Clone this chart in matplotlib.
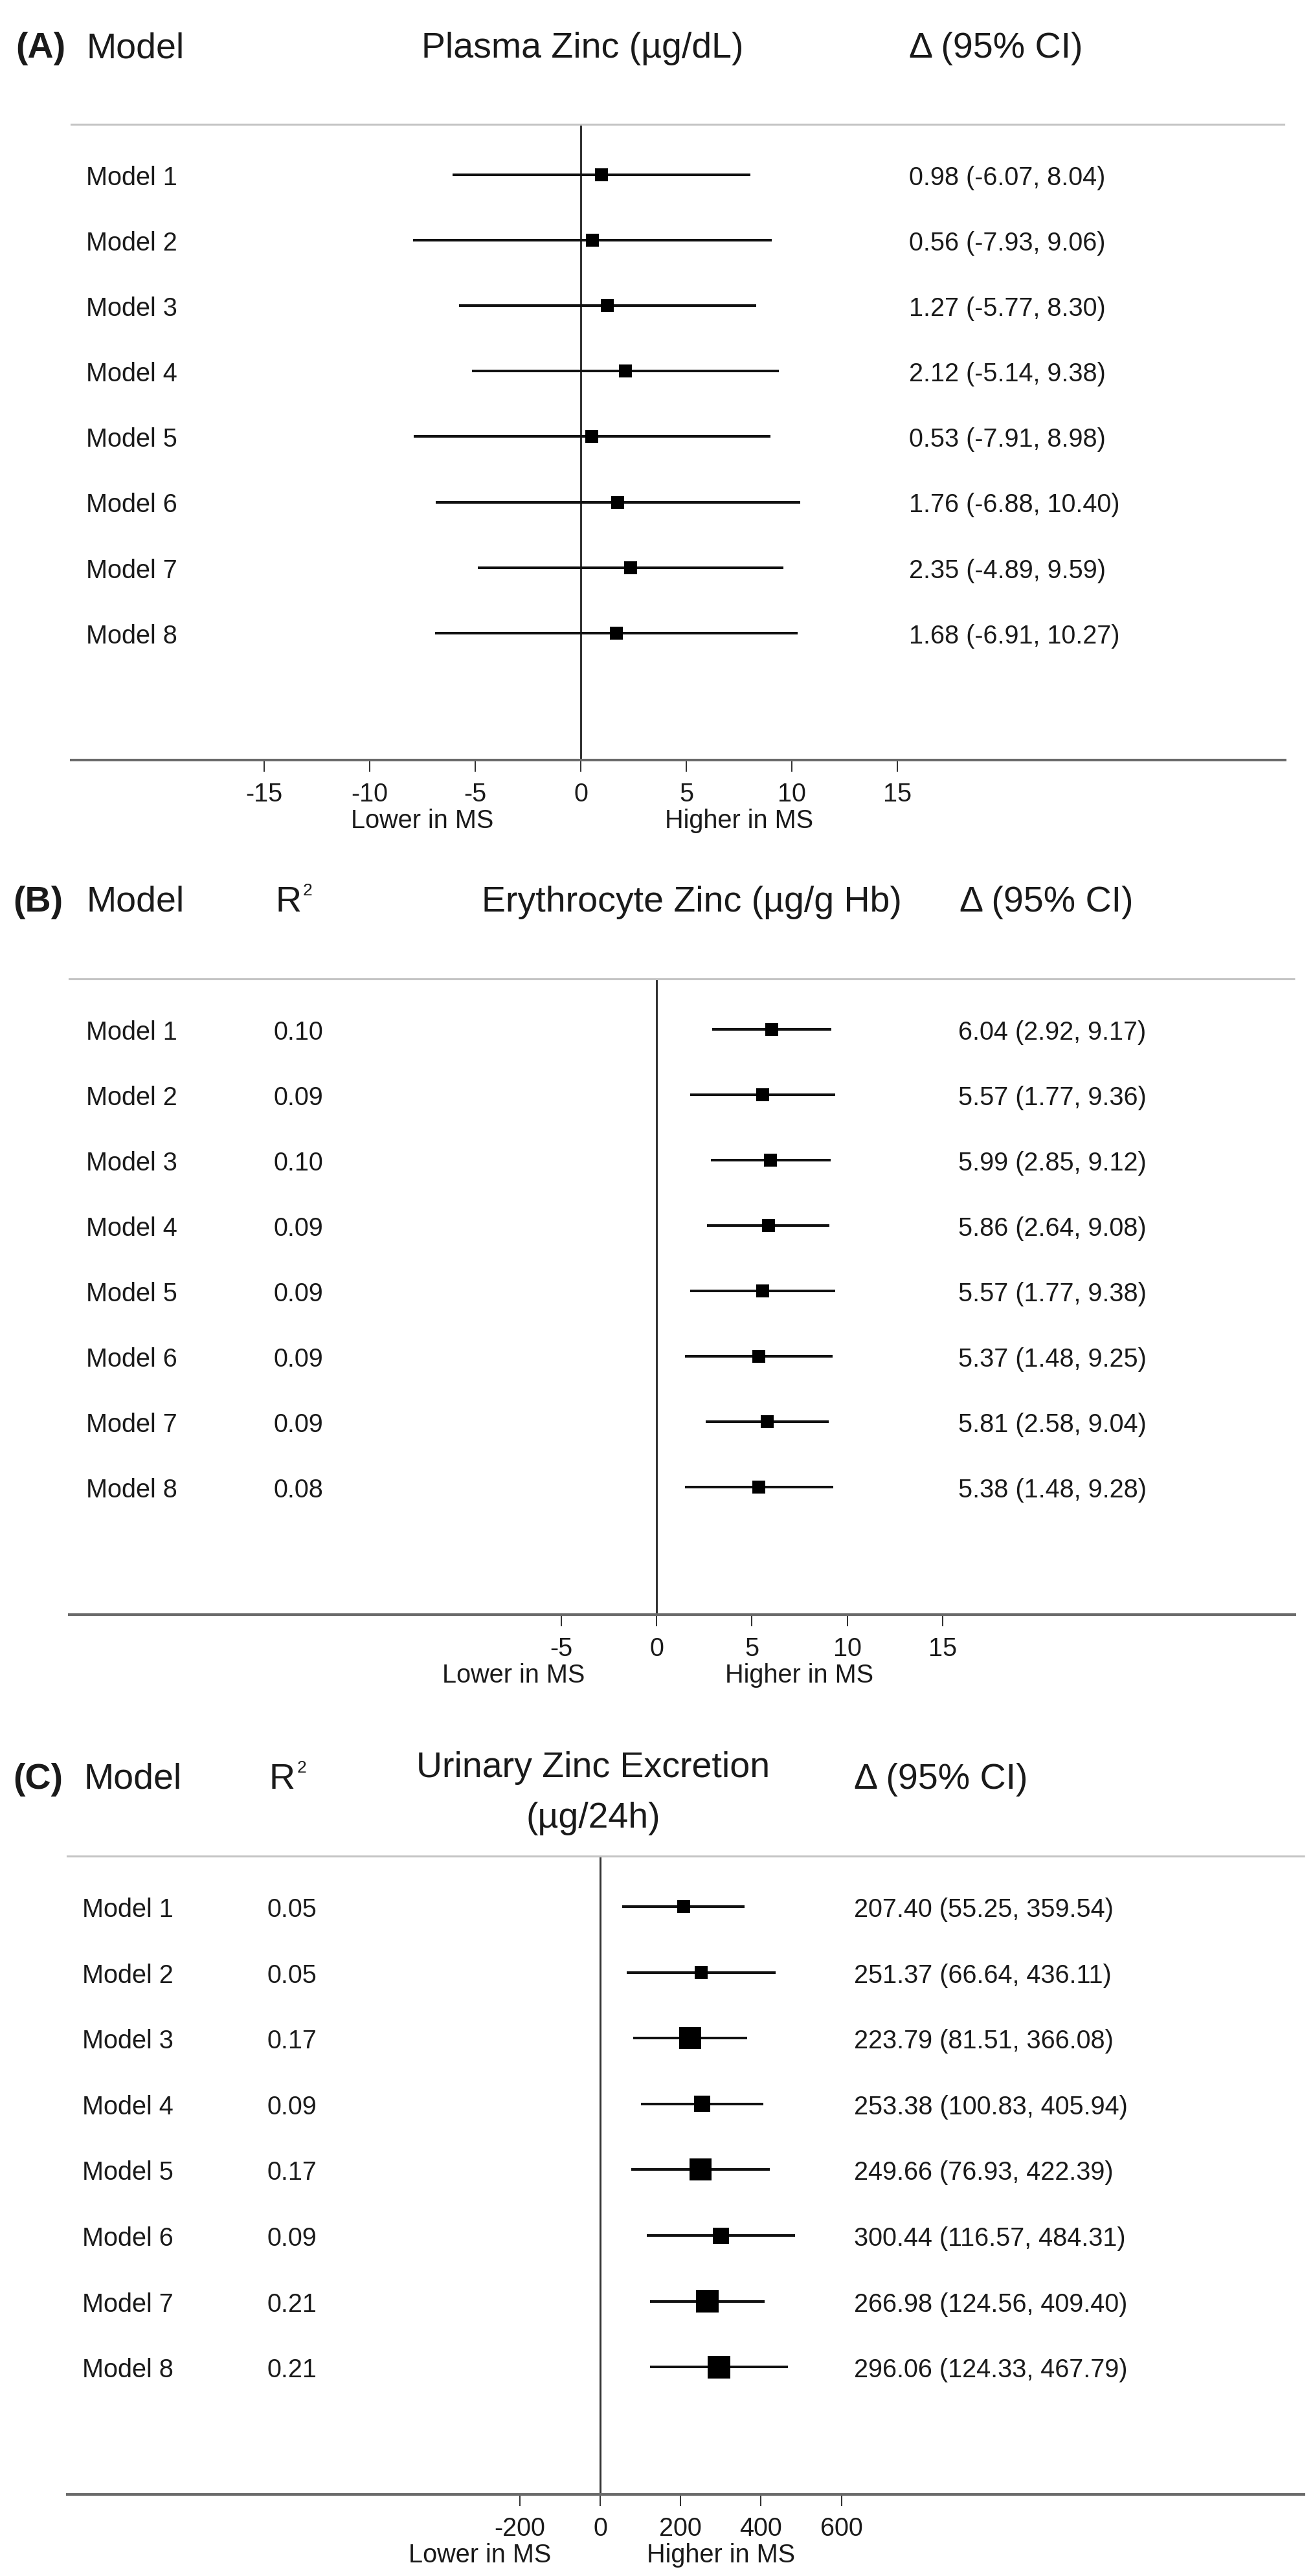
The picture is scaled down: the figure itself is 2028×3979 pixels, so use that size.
import matplotlib
matplotlib.use("Agg")
import matplotlib.pyplot as plt
import matplotlib.transforms as mtransforms
import numpy as np

plt.rcParams['font.family'] = ['Liberation Sans', 'DejaVu Sans']
plt.rcParams['axes.unicode_minus'] = False

# ---- data ----
models = ["Model 1", "Model 2", "Model 3", "Model 4",
          "Model 5", "Model 6", "Model 7", "Model 8"]

plasma_est = [0.98, 0.56, 1.27, 2.12, 0.53, 1.76, 2.35, 1.68]
plasma_lo = [-6.07, -7.93, -5.77, -5.14, -7.91, -6.88, -4.89, -6.91]
plasma_hi = [8.04, 9.06, 8.30, 9.38, 8.98, 10.40, 9.59, 10.27]
plasma_ticks = [-15, -10, -5, 0, 5, 10, 15]

ery_r2 = [0.10, 0.09, 0.10, 0.09, 0.09, 0.09, 0.09, 0.08]
ery_est = [6.04, 5.57, 5.99, 5.86, 5.57, 5.37, 5.81, 5.38]
ery_lo = [2.92, 1.77, 2.85, 2.64, 1.77, 1.48, 2.58, 1.48]
ery_hi = [9.17, 9.36, 9.12, 9.08, 9.38, 9.25, 9.04, 9.28]
ery_ticks = [-5, 0, 5, 10, 15]

uri_r2 = [0.05, 0.05, 0.17, 0.09, 0.17, 0.09, 0.21, 0.21]
uri_est = [207.40, 251.37, 223.79, 253.38, 249.66, 300.44, 266.98, 296.06]
uri_lo = [55.25, 66.64, 81.51, 100.83, 76.93, 116.57, 124.56, 124.33]
uri_hi = [359.54, 436.11, 366.08, 405.94, 422.39, 484.31, 409.40, 467.79]
uri_ticks = [-200, 0, 200, 400, 600]

# ---- layout (pixels of the 2028x3980 image) ----
W, H = 2028, 3980
DPI = 100
PT = 72 / DPI          # points per pixel
TXT = '#1a1a1a'
SMALL = 28.5
BIG = 40


def fx(px):
    return px / W


def fy(py):
    return 1 - py / H


def header_r2(fig, x, base):
    # R with a small raised 2, as in the original
    fig.text(fx(x), fy(base), "R", fontsize=BIG, color=TXT, va='baseline')
    fig.text(fx(x + 43), fy(base - 25), "2", fontsize=19, color=TXT, va='baseline')


def draw_panel(fig, lay, est, lo, hi, ticks, side, marker_px, r2=None):
    left, right, top, bottom = lay['left'], lay['right'], lay['top'], lay['bottom']
    ax = fig.add_axes([fx(left), fy(bottom), (right - left) / W, (bottom - top) / H])
    zero, scale = lay['zero'], lay['scale']
    ax.set_xlim((left - zero) / scale, (right - zero) / scale)
    row1, step = lay['row1'], lay['step']
    ax.set_ylim(1 + (bottom - row1) / step, 1 - (row1 - top) / step)

    for s in ('left', 'right'):
        ax.spines[s].set_visible(False)
    ax.spines['top'].set_color('#c4c4c4')
    ax.spines['top'].set_linewidth(2.2)
    ax.spines['top'].set_linestyle((0, (1, 1)))
    ax.spines['bottom'].set_color('#6a6a6a')
    ax.spines['bottom'].set_linewidth(4 * PT)
    ax.set_yticks([])
    ax.set_xticks(ticks)
    ax.set_xticklabels([str(t) for t in ticks])
    ax.tick_params(axis='x', direction='out', length=18 * PT, width=2 * PT,
                   color='#333333', pad=11, labelsize=SMALL, labelcolor=TXT)

    rows = np.arange(1, len(est) + 1)
    ax.axvline(0, color='#333333', lw=3 * PT, zorder=1)
    ax.hlines(rows, lo, hi, color='#111111', lw=4 * PT, zorder=2)
    ax.scatter(est, rows, marker='s', s=(np.array(marker_px) * PT) ** 2,
               color='black', linewidths=0, zorder=3)

    # row texts: x in figure pixels, y on the row scale
    trans = mtransforms.blended_transform_factory(fig.transFigure, ax.transData)
    off = 15 / step
    for i, r in enumerate(rows):
        ax.text(fx(lay['label_x']), r + off, models[i], transform=trans,
                fontsize=SMALL, color=TXT, va='baseline')
        if r2 is not None:
            ax.text(fx(lay['r2_x']), r + off, f"{r2[i]:.2f}", transform=trans,
                    fontsize=SMALL, color=TXT, va='baseline')
        ax.text(fx(lay['val_x']), r + off,
                f"{est[i]:.2f} ({lo[i]:.2f}, {hi[i]:.2f})", transform=trans,
                fontsize=SMALL, color=TXT, va='baseline')

    for txt, xv in (("Lower in MS", -side), ("Higher in MS", side)):
        ax.annotate(txt, xy=(xv, 0), xycoords=('data', 'axes fraction'),
                    xytext=(0, -104 * PT), textcoords='offset points',
                    ha='center', va='baseline', fontsize=SMALL, color=TXT,
                    annotation_clip=False)
    return ax


fig = plt.figure(figsize=(W / DPI, H / DPI), dpi=DPI)

# ---- (A) Plasma zinc ----
lay_a = dict(left=110, right=1985, top=193, bottom=1175, zero=897, scale=32.6,
             row1=271, step=101.1, label_x=133, val_x=1404)
draw_panel(fig, lay_a, plasma_est, plasma_lo, plasma_hi, plasma_ticks, 7.5,
           [20] * 8)
fig.text(fx(24), fy(89), "(A)", fontsize=BIG, fontweight='bold', color=TXT, va='baseline')
fig.text(fx(133), fy(89), "Model", fontsize=BIG, color=TXT, va='baseline')
fig.text(fx(900), fy(89), "Plasma Zinc (µg/dL)", fontsize=BIG, color=TXT,
         va='baseline', ha='center')
fig.text(fx(1404), fy(89), "Δ (95% CI)", fontsize=BIG, color=TXT, va='baseline')

# ---- (B) Erythrocyte zinc ----
lay_b = dict(left=107, right=2000, top=1513, bottom=2495, zero=1014, scale=29.45,
             row1=1591, step=101.0, label_x=133, r2_x=423, val_x=1480)
draw_panel(fig, lay_b, ery_est, ery_lo, ery_hi, ery_ticks, 7.5, [20] * 8, ery_r2)
fig.text(fx(20), fy(1408), "(B)", fontsize=BIG, fontweight='bold', color=TXT, va='baseline')
fig.text(fx(133), fy(1408), "Model", fontsize=BIG, color=TXT, va='baseline')
header_r2(fig, 425, 1408)
fig.text(fx(1068), fy(1408), "Erythrocyte Zinc (µg/g Hb)", fontsize=BIG, color=TXT,
         va='baseline', ha='center')
fig.text(fx(1482), fy(1408), "Δ (95% CI)", fontsize=BIG, color=TXT, va='baseline')

# ---- (C) Urinary zinc excretion ----
lay_c = dict(left=104, right=2014, top=2868, bottom=3854, zero=927, scale=0.621,
             row1=2946, step=101.6, label_x=127, r2_x=412, val_x=1319)
uri_marker_px = [20, 20, 34, 25, 34, 25, 35, 35]
draw_panel(fig, lay_c, uri_est, uri_lo, uri_hi, uri_ticks, 300, uri_marker_px, uri_r2)
fig.text(fx(20), fy(2763), "(C)", fontsize=BIG, fontweight='bold', color=TXT, va='baseline')
fig.text(fx(130), fy(2763), "Model", fontsize=BIG, color=TXT, va='baseline')
header_r2(fig, 416, 2763)
fig.text(fx(916), fy(2745), "Urinary Zinc Excretion", fontsize=BIG, color=TXT,
         va='baseline', ha='center')
fig.text(fx(916), fy(2823), "(µg/24h)", fontsize=BIG, color=TXT,
         va='baseline', ha='center')
fig.text(fx(1319), fy(2763), "Δ (95% CI)", fontsize=BIG, color=TXT, va='baseline')

fig.savefig("out.png", dpi=DPI, facecolor='white')
